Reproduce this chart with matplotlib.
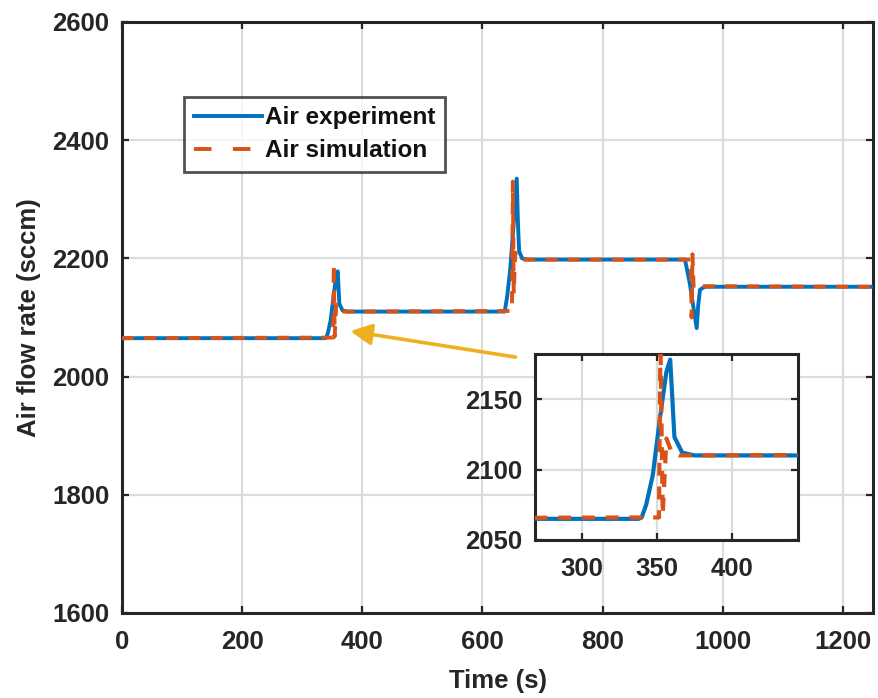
import matplotlib
matplotlib.use("Agg")
import matplotlib.pyplot as plt
from matplotlib.lines import Line2D

plt.rcParams["font.family"] = ["Liberation Sans", "DejaVu Sans"]
plt.rcParams["font.weight"] = "bold"

# Measured air flow (breakpoints of the recorded trace)
t_exp = [0, 338, 340, 343, 347.4, 352, 356.4, 359, 361.8, 367, 375,
         637, 641, 646, 652, 657, 659, 661, 666, 675,
         937, 945, 951, 956.5, 959, 962, 970, 1250]
q_exp = [2065, 2065, 2066, 2075, 2096, 2135, 2169, 2178, 2123, 2112, 2110,
         2110, 2135, 2180, 2260, 2335, 2260, 2212, 2200, 2198,
         2198, 2158, 2118, 2082, 2120, 2147, 2152, 2152]

# Simulated air flow
t_sim = [0, 351.5, 352.5, 354, 356.5, 360, 365,
         649, 650.5, 652, 654.5, 658, 665,
         947, 948, 949.5, 951.5, 955, 1250]
q_sim = [2065, 2066, 2190, 2068, 2122, 2112, 2110,
         2111, 2330, 2140, 2210, 2199, 2198,
         2198, 2100, 2207, 2150, 2153, 2152]

x_ticks = [0, 200, 400, 600, 800, 1000, 1200]
y_ticks = [1600, 1800, 2000, 2200, 2400, 2600]
inset_x_ticks = [300, 350, 400]
inset_y_ticks = [2050, 2100, 2150]

blue = "#0072BD"
orange = "#D95319"
gold = "#EDB120"
dark = "#262626"
grid_c = "#DCDCDC"
lw = 2.8
dash = (3.1, 2.6)

fig = plt.figure(figsize=(8.79, 6.98), dpi=100)
ax = fig.add_axes([0.1388, 0.1218, 0.8544, 0.8467])


def style(a, fs):
    a.grid(True, color=grid_c, lw=1.6)
    a.set_axisbelow(True)
    for s in a.spines.values():
        s.set_linewidth(2.2)
        s.set_color(dark)
    a.tick_params(direction="in", length=5, width=1.6, top=True, right=True,
                  labelsize=fs, colors=dark)
    for lab in a.get_xticklabels() + a.get_yticklabels():
        lab.set_fontweight("bold")


ax.plot(t_exp, q_exp, color=blue, lw=lw, solid_joinstyle="round", zorder=3)
ax.plot(t_sim, q_sim, color=orange, lw=lw, dashes=dash, zorder=4)
ax.set_xlim(0, 1250)
ax.set_ylim(1600, 2600)
ax.set_xticks(x_ticks)
ax.set_yticks(y_ticks)
style(ax, 18.5)
ax.tick_params(axis="x", pad=12)
ax.tick_params(axis="y", pad=9)
ax.set_xlabel("Time (s)", fontsize=18.5, fontweight="bold", color=dark, labelpad=11)
ax.set_ylabel("Air flow rate (sccm)", fontsize=18.5, fontweight="bold", color=dark, labelpad=8)

handles = [Line2D([], [], color=blue, lw=lw),
           Line2D([], [], color=orange, lw=lw, dashes=(4.5, 5.5))]
leg = ax.legend(handles, ["Air experiment", "Air simulation"],
                loc="upper left", bbox_to_anchor=(0.083, 0.873),
                prop={"size": 17.5, "weight": "bold"}, frameon=True,
                fancybox=False, handlelength=2.8, handletextpad=0.15,
                borderpad=0.38, labelspacing=0.42, borderaxespad=0)
leg.get_frame().set_edgecolor(dark)
leg.get_frame().set_linewidth(2.0)
for txt in leg.get_texts():
    txt.set_color("#111111")

ax.annotate("", xy=(380, 2077), xytext=(655, 2033),
            arrowprops=dict(arrowstyle="-|>", color=gold, lw=2.6,
                            mutation_scale=32, shrinkA=0, shrinkB=0),
            zorder=5)

ins = fig.add_axes([0.6086, 0.2264, 0.2992, 0.2665])
ins.plot(t_exp, q_exp, color=blue, lw=3.0, zorder=3)
ins.plot(t_sim, q_sim, color=orange, lw=3.0, dashes=dash, zorder=4)
ins.set_xlim(269, 444)
ins.set_ylim(2050, 2182)
ins.set_xticks(inset_x_ticks)
ins.set_yticks(inset_y_ticks)
style(ins, 18.5)
ins.tick_params(axis="x", pad=12)
ins.tick_params(axis="y", pad=9)
ins.set_facecolor("white")

fig.savefig("out.png", dpi=100)
